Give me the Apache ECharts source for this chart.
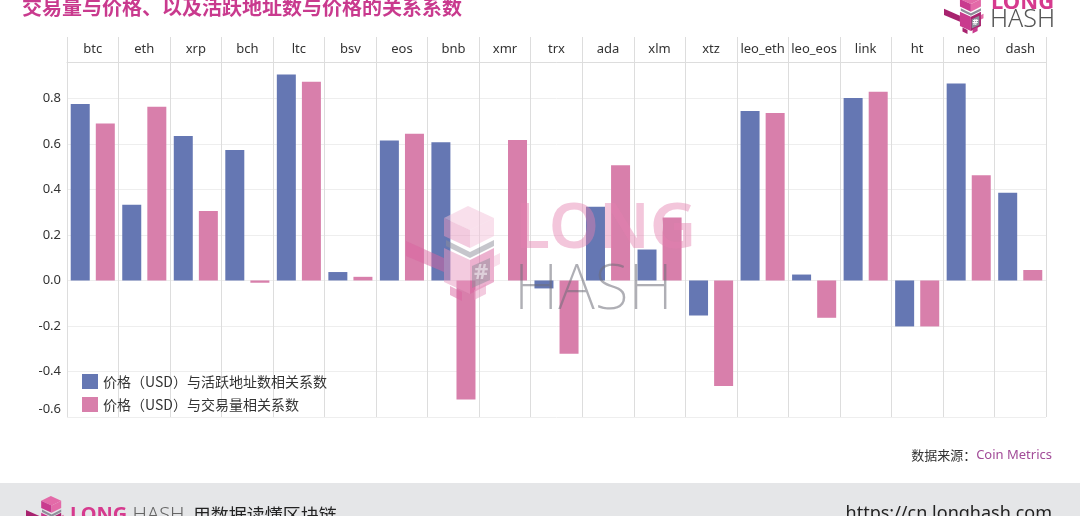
<!DOCTYPE html>
<html>
<head>
<meta charset="utf-8">
<script src="https://cdn.jsdelivr.net/npm/echarts@6/dist/echarts.min.js"></script>
<style>
  html, body { margin: 0; padding: 0; background: #ffffff; }
  #chart { width: 1080px; height: 516px; }
</style>
</head>
<body>
<div id="chart"></div>
<script>
// Coins shown along the header row
const coins = ['btc', 'eth', 'xrp', 'bch', 'ltc', 'bsv', 'eos', 'bnb', 'xmr', 'trx',
  'ada', 'xlm', 'xtz', 'leo_eth', 'leo_eos', 'link', 'ht', 'neo', 'dash'];

// Correlation of price (USD) with active addresses
const activeAddrCorr = [0.775, 0.333, 0.635, 0.573, 0.905, 0.037, 0.615, 0.607, null, -0.035,
  0.324, 0.136, -0.154, 0.745, 0.026, 0.802, -0.202, 0.865, 0.385];

// Correlation of price (USD) with transaction volume
const volumeCorr = [0.690, 0.763, 0.305, -0.010, 0.873, 0.016, 0.645, -0.523, 0.617, -0.322,
  0.506, 0.277, -0.464, 0.736, -0.164, 0.829, -0.202, 0.462, 0.046];

const seriesNames = ['价格（USD）与活跃地址数相关系数', '价格（USD）与交易量相关系数'];
const titleText = '交易量与价格、以及活跃地址数与价格的关系系数';

const BLUE = '#6577b3';
const PINK = '#d87fab';
const MAGENTA = '#c93a8e';
const FONT = '"Noto Sans", "Noto Sans CJK SC", sans-serif';
const CJK = '"Noto Sans CJK SC", sans-serif';

const chart = echarts.init(document.getElementById('chart'), null, { renderer: 'canvas' });

// Isometric pixel-robot mark used in the logos; (x, y) is the top-left, s scales a 90x95 box
function robot(x, y, s, opacity, z, tones) {
  const poly = (pts, fill) => ({
    type: 'polygon', z: z, silent: true,
    shape: { points: pts.map(p => [x + p[0] * s, y + p[1] * s]) },
    style: { fill: fill, opacity: opacity }
  });
  return [
    // left arm
    poly([[0, 35], [38, 52], [38, 66], [0, 50]], tones[2]),
    // head
    poly([[38, 12], [62, 0], [88, 12], [64, 24]], tones[0]),
    poly([[38, 12], [64, 24], [64, 42], [38, 30]], tones[1]),
    poly([[64, 24], [88, 12], [88, 30], [64, 42]], tones[0]),
    // neck band
    poly([[40, 34], [64, 46], [88, 34], [88, 40], [64, 52], [40, 40]], '#8e8e9a'),
    // body
    poly([[38, 42], [64, 54], [64, 88], [38, 76]], tones[1]),
    poly([[64, 54], [88, 42], [88, 76], [64, 88]], tones[2]),
    poly([[66, 60], [84, 52], [84, 74], [66, 82]], '#8e8e9a'),
    { type: 'text', z: z + 1, silent: true, x: x + 75 * s, y: y + 67 * s,
      style: { text: '#', fill: '#ffffff', opacity: opacity, font: 'bold ' + Math.round(22 * s) + 'px ' + FONT,
        align: 'center', verticalAlign: 'middle' } },
    // right arm and feet
    poly([[88, 50], [94, 47], [94, 58], [88, 61]], tones[0]),
    poly([[44, 80], [56, 86], [56, 95], [44, 89]], tones[2]),
    poly([[68, 84], [80, 78], [80, 88], [68, 94]], tones[1])
  ];
}

const PALE = ['#f3c2da', '#e898c0', '#d9649f'];
const DEEP = ['#e36aa8', '#c93a8e', '#a8236f'];

const graphics = [
  // title (runs off the top edge)
  { type: 'text', left: 22, top: -3, z: 10,
    style: { text: titleText, fill: MAGENTA, font: 'bold 20px ' + CJK } },
  // top-right logo
  ...robot(944, -6, 0.42, 1, 10, DEEP),
  { type: 'text', x: 991, y: -8, z: 10,
    style: { text: 'LONG', fill: '#d63a8e', font: 'bold 22px ' + FONT } },
  { type: 'text', x: 990, y: 7, z: 10,
    style: { text: 'HASH', fill: '#555555', font: '300 25px ' + FONT } },
  // centre watermark
  ...robot(406, 206, 1.0, 0.5, 20, PALE),
  { type: 'text', x: 515, y: 198, z: 20, silent: true,
    style: { text: 'LONG', fill: 'rgba(228,128,176,0.45)', font: '600 64px ' + FONT } },
  { type: 'text', x: 514, y: 260, z: 20, silent: true,
    style: { text: 'HASH', fill: 'rgba(110,110,120,0.55)', font: '200 62px ' + FONT } },
  // data source
  { type: 'text', right: 28, top: 449, z: 10,
    style: { text: '{a|数据来源：}{b|Coin Metrics}',
      rich: { a: { fill: '#333333', font: '13px ' + CJK }, b: { fill: '#a24c98', font: '13px ' + FONT } } } },
  // footer band
  { type: 'rect', z: 5, shape: { x: 0, y: 483, width: 1080, height: 33 }, style: { fill: '#e5e6e8' } },
  ...robot(26, 496, 0.4, 1, 10, DEEP),
  { type: 'text', x: 70, y: 505, z: 10,
    style: { text: '{l|LONG}{h| HASH}{c|  用数据读懂区块链}',
      rich: {
        l: { fill: '#d63a8e', font: 'bold 20px ' + FONT },
        h: { fill: '#666666', font: '300 20px ' + FONT },
        c: { fill: '#222222', font: '18px ' + CJK }
      } } },
  { type: 'text', right: 28, y: 505, z: 10,
    style: { text: 'https://cn.longhash.com', fill: '#222222', font: '18px ' + FONT } }
];

const option = {
  backgroundColor: '#ffffff',
  animation: false,
  textStyle: { fontFamily: FONT },
  grid: { left: 67, right: 34, top: 62, bottom: 99, containLabel: false },
  legend: {
    orient: 'vertical', left: 77, top: 369,
    itemWidth: 16, itemHeight: 15, itemGap: 8, icon: 'rect',
    textStyle: { fontSize: 14, color: '#333333', fontFamily: CJK },
    data: seriesNames
  },
  xAxis: {
    type: 'category', position: 'top', data: coins,
    axisLine: { show: true, onZero: false, lineStyle: { color: '#dddddd' } },
    axisTick: { show: true, length: 25, interval: 0, lineStyle: { color: '#dddddd' } },
    axisLabel: { interval: 0, margin: 6, color: '#333333', fontSize: 13 },
    splitLine: { show: true, interval: 0, lineStyle: { color: '#dddddd' } }
  },
  yAxis: {
    type: 'value', min: -0.6, max: 0.96, interval: 0.2,
    axisLine: { show: false }, axisTick: { show: false },
    axisLabel: {
      showMaxLabel: false, margin: 6, color: '#333333', fontSize: 13,
      formatter: v => {
        const r = Math.round(v * 10) / 10;
        if (Math.abs(v - r) > 1e-6) return '';
        const s = r.toFixed(1);
        return r <= -0.6 + 1e-6 ? '{low|' + s + '}' : s;
      },
      rich: { low: { padding: [0, 0, 16, 0], fontSize: 13, color: '#333333' } }
    },
    splitLine: { show: true, lineStyle: { color: '#eeeeee' } }
  },
  series: [
    { name: seriesNames[0], type: 'bar', data: activeAddrCorr, barWidth: 19, barGap: '32%',
      itemStyle: { color: BLUE } },
    { name: seriesNames[1], type: 'bar', data: volumeCorr, barWidth: 19, barGap: '32%',
      itemStyle: { color: PINK } }
  ],
  graphic: graphics
};

chart.setOption(option);
</script>
</body>
</html>
